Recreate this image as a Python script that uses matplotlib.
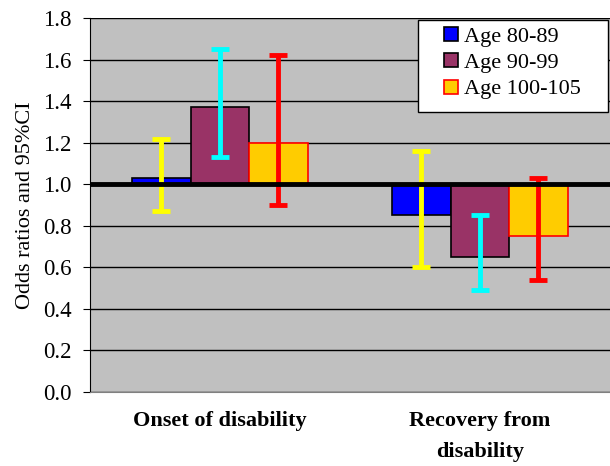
import numpy as np
import matplotlib.pyplot as plt
from matplotlib.lines import Line2D
from matplotlib.patches import Rectangle

categories = ['Onset of disability', 'Recovery from\ndisability']
groups = ['Age 80-89', 'Age 90-99', 'Age 100-105']
odds = [[1.03, 0.85], [1.37, 0.65], [1.20, 0.75]]
ci_low = [[0.87, 0.60], [1.13, 0.49], [0.90, 0.54]]
ci_high = [[1.22, 1.16], [1.65, 0.85], [1.62, 1.03]]
yticks = np.arange(0, 1.81, 0.2)

face = ['#0000FF', '#993366', '#FFCC00']
edge = ['black', 'black', 'red']
errc = ['#FFFF00', '#00FFFF', '#FF0000']

plt.rcParams['font.family'] = ['Liberation Serif', 'DejaVu Serif']

fig = plt.figure(figsize=(6.1, 4.66), dpi=100)
ax = fig.add_axes([0.1475, 0.1588, 0.8525, 0.8026])
ax.set_facecolor('#C0C0C0')

x = np.arange(len(categories))
w = 0.225
for i, g in enumerate(groups):
    xi = x + (i - 1) * w
    v = np.array(odds[i])
    ax.bar(xi, v - 1.0, bottom=1.0, width=w, color=face[i], edgecolor=edge[i],
           linewidth=1.2, zorder=2)
    lo = v - np.array(ci_low[i])
    hi = np.array(ci_high[i]) - v
    ax.errorbar(xi, v, yerr=[lo, hi], fmt='none', ecolor=errc[i], elinewidth=3.5,
                capsize=6.5, capthick=3.5, zorder=3)

ax.axhline(1.0, color='black', lw=3.5, zorder=4)

ax.set_ylim(0, 1.8)
ax.set_xlim(-0.5, 1.5)
ax.set_yticks(yticks)
ax.set_yticklabels(['%.1f' % t for t in yticks], fontsize=16.5)
ax.yaxis.grid(True, color='black', lw=1)
ax.set_axisbelow(True)
ax.set_xticks(x)
ax.set_xticklabels(categories, fontsize=16, fontweight='bold', linespacing=1.7)
ax.tick_params(axis='x', length=0, pad=14)
ax.tick_params(axis='y', length=5, direction='out', color='black', pad=8)
ax.set_ylabel('Odds ratios and 95%CI', fontsize=16, labelpad=6)

for s in ['top', 'right']:
    ax.spines[s].set_visible(False)
ax.spines['left'].set_color('black')
ax.spines['bottom'].set_color('#808080')

# legend box (wider padding than matplotlib's default frame)
ax.add_patch(Rectangle((0.631, 0.749), 0.365, 0.246, transform=ax.transAxes,
                       facecolor='white', edgecolor='black', lw=1, zorder=5))
handles = [Line2D([], [], ls='none', marker='s', markersize=10.5,
                  markerfacecolor=face[i], markeredgecolor=edge[i],
                  markeredgewidth=1.2) for i in range(len(groups))]
leg = ax.legend(handles, groups, loc='upper left', bbox_to_anchor=(0.672, 0.978),
                fontsize=16, frameon=False, borderaxespad=0, borderpad=0,
                handlelength=1.0, handletextpad=0.12, labelspacing=0.26)
leg.set_zorder(6)

fig.savefig('out.png', dpi=100)
